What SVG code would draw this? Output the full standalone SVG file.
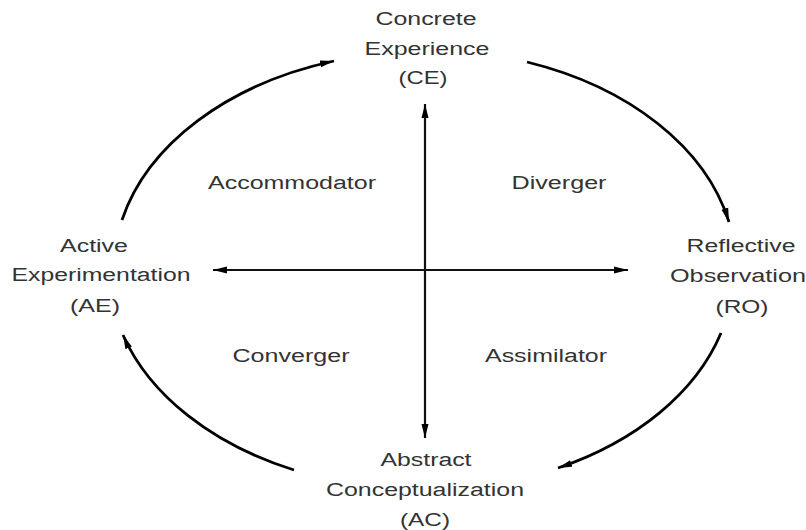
<svg xmlns="http://www.w3.org/2000/svg" width="806" height="530" viewBox="0 0 806 530">
<style>
text{font-family:"Liberation Sans",Arial,sans-serif;font-size:18px;fill:#333;text-anchor:middle}
.arc{fill:none;stroke:#000;stroke-width:2.8;marker-end:url(#ah)}
.axis{fill:none;stroke:#111;stroke-width:2.2;marker-start:url(#ahs);marker-end:url(#ahs)}
</style>
<defs>
<marker id="ah" viewBox="0 0 14 8" refX="14" refY="4" markerWidth="14" markerHeight="8" markerUnits="userSpaceOnUse" orient="auto">
<path d="M0,0.5 L14,4 L0,7.5 z" fill="#000"/>
</marker>
<marker id="ahs" viewBox="0 0 14 8" refX="14" refY="4" markerWidth="14" markerHeight="8" markerUnits="userSpaceOnUse" orient="auto-start-reverse">
<path d="M0,0.5 L14,4 L0,7.5 z" fill="#000"/>
</marker>
</defs>
<g id="connectors">
<path class="arc" d="M122,220 A312 219 0 0 1 334,61"/>
<path class="arc" d="M527,62 A312 219 0 0 1 729,222"/>
<path class="arc" d="M721,333 A312 219 0 0 1 558,468"/>
<path class="arc" d="M294,470 A312 219 0 0 1 123,335"/>
<path class="axis" d="M425,104 L425,438"/>
<path class="axis" d="M213,270 L628,270"/>
</g>
<g id="CE">
<text x="426" y="25" textLength="101" lengthAdjust="spacingAndGlyphs">Concrete</text>
<text x="427" y="55" textLength="125" lengthAdjust="spacingAndGlyphs">Experience</text>
<text x="423" y="84" textLength="49" lengthAdjust="spacingAndGlyphs">(CE)</text>
</g>
<g id="RO">
<text x="741" y="252" textLength="109" lengthAdjust="spacingAndGlyphs">Reflective</text>
<text x="738" y="282" textLength="136" lengthAdjust="spacingAndGlyphs">Observation</text>
<text x="742" y="313" textLength="53" lengthAdjust="spacingAndGlyphs">(RO)</text>
</g>
<g id="AC">
<text x="426" y="466" textLength="91" lengthAdjust="spacingAndGlyphs">Abstract</text>
<text x="425" y="496" textLength="198" lengthAdjust="spacingAndGlyphs">Conceptualization</text>
<text x="425" y="526" textLength="50" lengthAdjust="spacingAndGlyphs">(AC)</text>
</g>
<g id="AE">
<text x="94" y="252" textLength="68" lengthAdjust="spacingAndGlyphs">Active</text>
<text x="101" y="281" textLength="179" lengthAdjust="spacingAndGlyphs">Experimentation</text>
<text x="95" y="312" textLength="50" lengthAdjust="spacingAndGlyphs">(AE)</text>
</g>
<g id="Accommodator"><text x="292" y="189" textLength="168" lengthAdjust="spacingAndGlyphs">Accommodator</text></g>
<g id="Diverger"><text x="559" y="189" textLength="95" lengthAdjust="spacingAndGlyphs">Diverger</text></g>
<g id="Converger"><text x="291" y="362" textLength="117" lengthAdjust="spacingAndGlyphs">Converger</text></g>
<g id="Assimilator"><text x="546" y="362" textLength="122" lengthAdjust="spacingAndGlyphs">Assimilator</text></g>
</svg>
